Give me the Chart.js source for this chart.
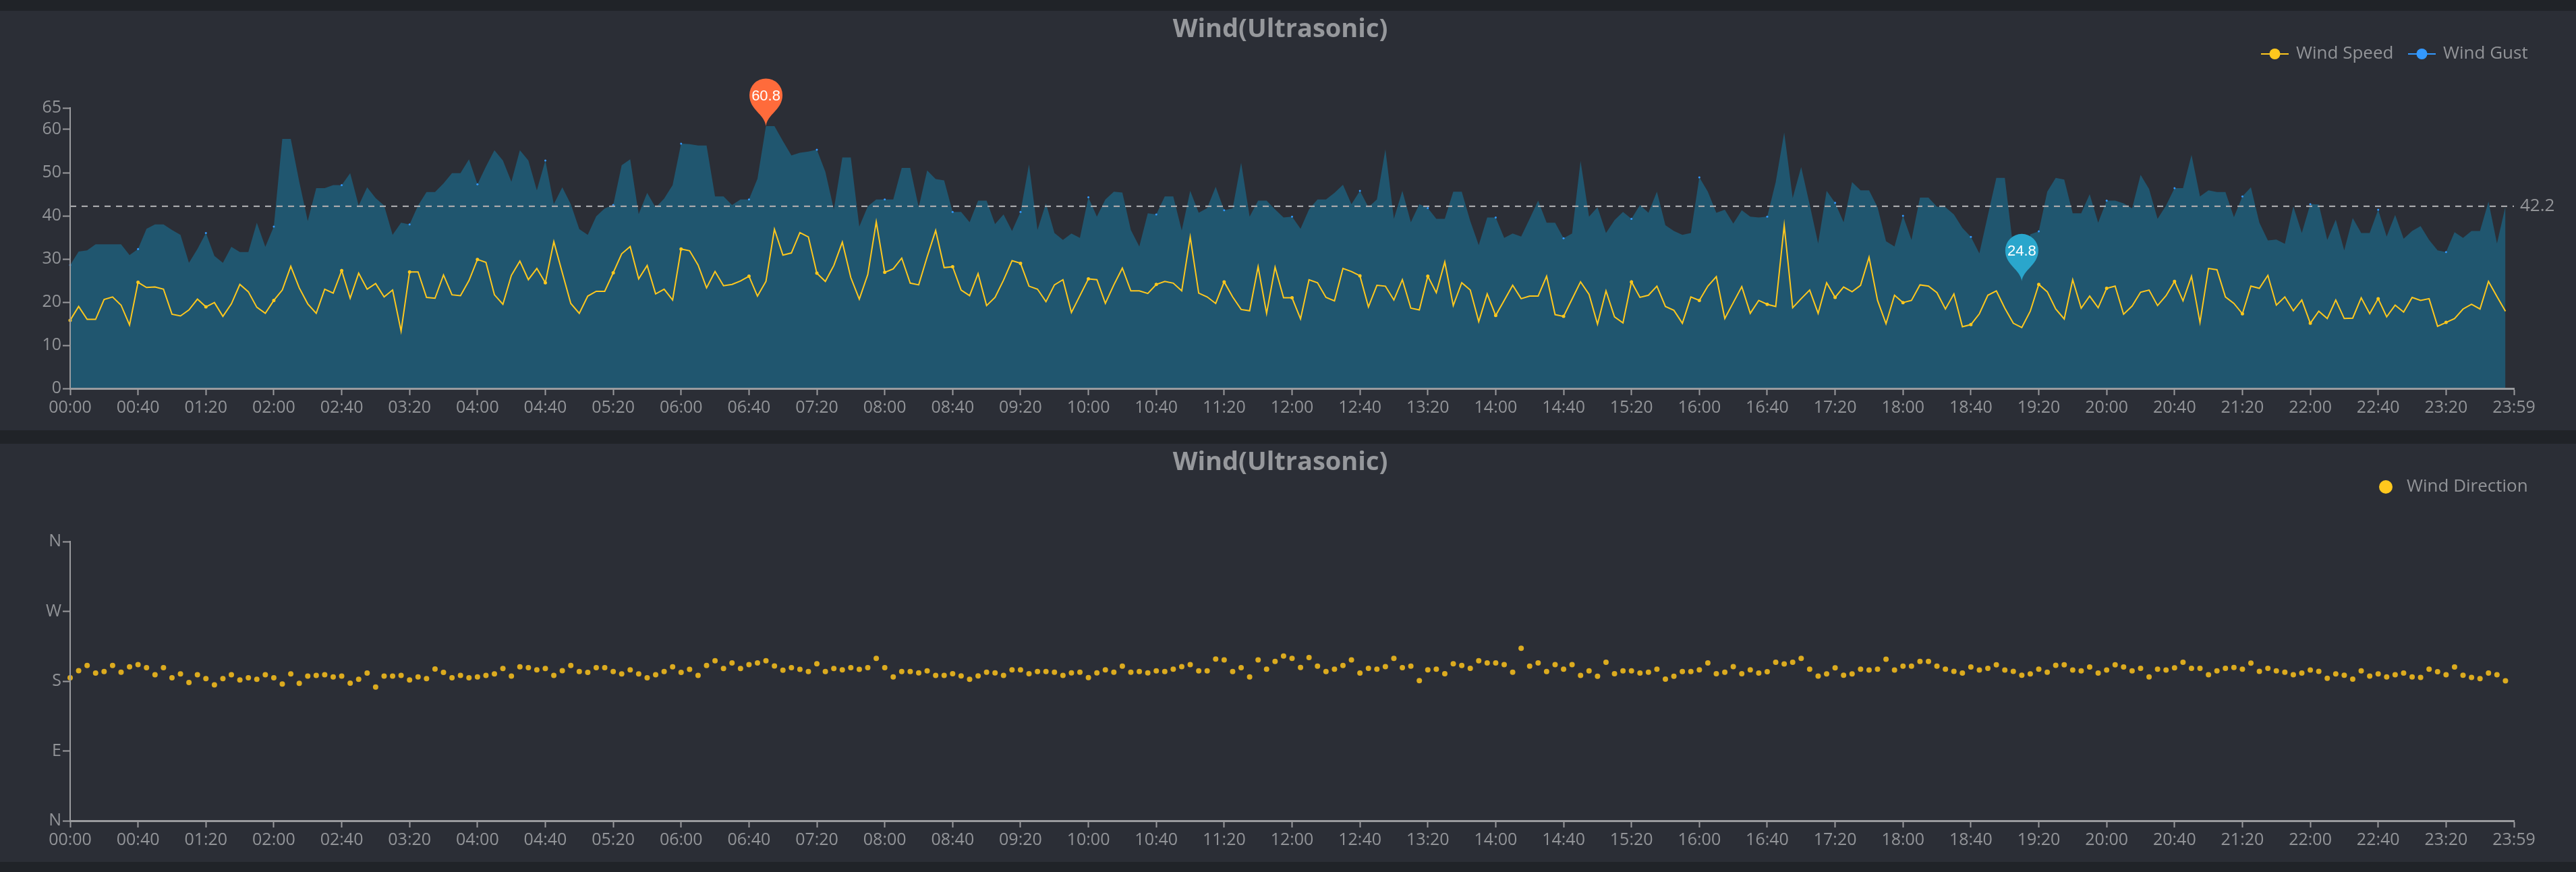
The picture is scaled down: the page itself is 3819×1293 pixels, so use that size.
<!DOCTYPE html>
<html>
<head>
<meta charset="utf-8">
<title>Wind(Ultrasonic)</title>
<script src="https://cdn.jsdelivr.net/npm/chart.js@4"></script>
<style>
  html, body { margin: 0; padding: 0; background: #202328; width: 3819px; height: 1293px; overflow: hidden; }
  canvas { position: absolute; left: 0; background: #2b2e36; }
  #wind-chart { top: 16px; }
  #dir-chart { top: 658px; }
</style>
</head>
<body>
<canvas id="wind-chart" width="3819" height="622"></canvas>
<canvas id="dir-chart" width="3819" height="620"></canvas>
<script>
// x labels: one slot every 5 minutes, the last slot is 23:59
var categories = [];
for (var m = 0; m < 1440; m += 5) {
  categories.push(String(Math.floor(m / 60)).padStart(2, '0') + ':' + String(m % 60).padStart(2, '0'));
}
categories.push('23:59');

var windSpeed = [15.8,19.0,16.0,16.0,20.6,21.2,19.3,14.7,24.6,23.4,23.5,23.0,17.2,16.8,18.2,20.7,18.9,19.9,16.7,19.6,24.1,22.4,18.8,17.4,20.4,22.8,28.3,23.3,19.6,17.4,23.0,22.1,27.3,20.9,26.7,23.0,24.3,21.2,22.8,13.3,27.0,27.0,21.1,20.9,26.3,21.7,21.5,25.0,29.9,29.2,21.7,19.5,26.2,29.5,25.2,27.8,24.5,34.0,26.8,19.7,17.4,21.4,22.5,22.5,26.8,31.2,32.9,25.4,28.5,21.9,23.0,20.5,
  32.3,31.9,28.6,23.3,27.1,23.8,24.1,24.9,26.0,21.4,24.8,36.9,30.9,31.4,36.1,35.1,26.7,24.8,28.5,33.9,25.7,20.7,26.4,38.6,26.9,27.7,30.2,24.4,24.0,30.5,36.6,28.0,28.2,22.8,21.5,26.6,19.2,21.1,25.1,29.6,29.0,23.7,23.0,20.1,24.0,25.2,17.6,21.5,25.4,25.2,19.7,24.0,27.9,22.6,22.6,22.0,24.1,24.8,24.4,22.6,35.1,22.1,21.2,19.7,24.7,21.2,18.3,18.0,28.2,17.4,28.1,21.0,21.0,16.1,25.2,24.5,21.1,20.3,27.8,
  27.1,26.1,18.9,23.9,23.7,20.5,25.2,18.6,18.2,26.0,22.2,29.3,19.2,24.5,22.8,15.5,21.9,16.9,20.4,23.9,20.8,21.4,21.4,26.0,17.1,16.7,20.7,24.7,21.8,14.9,22.6,16.6,15.2,24.7,21.1,21.6,23.7,19.0,18.1,15.1,21.2,20.4,23.7,25.9,16.2,19.9,23.6,17.4,20.4,19.5,19.0,37.8,18.7,20.8,22.8,17.4,24.5,21.1,23.5,22.4,23.9,30.4,20.4,15.0,21.6,19.9,20.4,24.0,23.7,22.2,18.4,21.9,14.3,14.8,17.3,21.6,22.6,18.6,15.1,14.1,
  17.9,24.1,22.4,18.4,16.1,25.2,18.6,21.4,18.7,23.2,23.7,17.2,19.1,22.3,22.8,19.2,21.5,24.8,20.3,26.0,15.3,27.8,27.5,21.2,19.7,17.3,23.7,23.2,26.2,19.3,21.2,18.0,20.5,15.1,17.9,16.2,20.5,16.2,16.3,21.0,17.3,20.8,16.6,19.3,17.7,21.1,20.4,20.8,14.4,15.3,16.2,18.4,19.5,18.4,24.8,21.3,17.9];

var windGust = [28.6,31.7,32.0,33.4,33.4,33.4,33.4,30.9,32.3,37.0,38.0,38.0,36.7,35.6,29.1,32.3,36.0,30.7,29.1,32.8,31.6,31.6,38.4,32.8,37.5,57.8,57.8,47.9,38.8,46.4,46.4,47.1,47.1,49.9,42.4,46.6,44.1,42.4,35.6,38.4,38.0,42.4,45.5,45.5,47.5,49.9,49.9,53.1,47.3,51.4,55.2,52.8,47.9,55.2,52.8,45.9,52.8,42.7,46.6,42.7,36.9,35.6,39.9,41.7,42.5,51.7,53.1,40.4,45.3,41.9,44.0,47.1,
  56.7,56.6,56.3,56.3,44.5,44.5,42.5,43.8,43.8,48.6,60.8,60.8,57.3,54.0,54.6,54.9,55.3,50.2,41.5,53.5,53.5,37.5,42.2,43.8,43.8,43.8,51.1,51.1,42.0,50.5,48.5,48.2,40.9,40.9,38.5,43.5,43.5,38.1,40.3,36.5,40.9,51.9,36.7,42.9,36.0,34.4,35.9,34.9,44.3,39.8,43.8,45.6,45.4,36.7,32.9,40.6,40.3,44.5,44.5,36.6,45.8,40.7,41.8,46.7,41.3,41.7,52.3,39.8,43.5,43.5,41.5,39.6,39.8,37.0,41.5,43.8,43.8,45.3,47.2,
  42.7,45.8,42.0,43.8,55.4,39.3,45.8,38.5,42.7,41.8,39.3,39.3,45.6,45.6,38.8,33.2,39.6,39.6,34.9,35.9,35.2,39.3,43.5,38.4,38.4,34.8,35.9,52.7,39.8,42.0,36.0,39.0,40.9,39.3,42.5,40.7,45.6,37.8,36.5,35.6,36.0,48.9,45.6,40.7,41.4,38.2,41.3,39.8,39.6,39.8,47.8,59.3,44.1,51.3,42.6,33.6,45.8,43.0,38.5,47.8,45.9,45.9,42.0,34.1,32.9,40.0,34.4,44.2,44.2,42.1,42.0,40.3,37.2,35.1,31.3,40.1,48.8,48.8,32.4,24.8,
  35.7,36.4,45.6,48.8,48.4,40.6,40.6,45.0,38.4,43.5,43.5,42.9,41.7,49.5,46.2,39.3,42.4,46.4,46.4,54.1,44.5,45.9,45.5,45.5,39.7,44.5,46.6,38.4,34.3,34.5,33.5,42.2,36.0,42.7,42.6,34.4,39.1,32.0,39.5,36.0,36.0,41.4,35.2,40.2,34.7,36.5,37.6,34.4,32.0,31.6,36.2,34.9,36.5,36.5,43.3,33.6,42.2];

var windDirection = [184.4,193.4,200.3,190.5,192.3,200.3,191.6,198.5,201.4,197.4,188.3,197.4,184.4,189.4,178.2,188.3,183.3,175.3,183.3,188.3,181.5,184.4,182.5,188.3,184.4,176.4,189.4,177.1,186.5,187.3,188.3,185.4,186.5,177.5,182.5,190.5,172.4,186.5,186.5,187.3,181.5,185.4,183.3,195.6,191.2,184.4,187.3,184.4,185.4,187.3,189.4,196.3,186.5,198.5,197.4,194.5,196.3,187.3,193.4,200.3,192.3,191.2,197.4,197.4,192.3,189.4,194.5,189.4,184.4,188.3,192.3,198.5,191.2,195.2,187.3,200.3,206.4,196.3,203.5,196.3,201.4,203.5,206.4,199.6,194.1,197.4,195.2,192.3,202.5,192.3,196.3,194.5,197.4,195.2,197.4,209.3,
  197.4,185.5,192.5,192.5,190.7,193.3,187.5,187.5,189.6,186.7,182.3,186.7,191.6,190.7,187.5,194.5,194.5,189.6,192.5,192.5,191.6,187.5,190.7,191.6,184.6,190.7,194.5,191.6,199.4,191.6,192.5,190.7,193.3,192.5,195.4,198.6,201.4,193.3,193.3,208.4,207.5,192.5,197.4,185.5,207.5,195.4,205.5,212.5,209.3,197.7,210.4,199.4,192.5,195.4,200.3,207.5,190.4,196.5,195.4,198.6,209.3,197.4,199.4,180.6,194.5,195.4,189.6,202.3,200.3,196.5,206.4,203.5,203.5,201.4,191.6,222.3,199.4,203.5,192.5,201.4,195.4,201.4,187.5,193.3,186.4,204.3,189.6,193.3,193.3,190.4,191.6,195.4,182.6,186.4,192.5,192.5,194.5,203.5,189.6,191.6,198.6,189.6,194.5,
  190.4,192.2,204.4,202.2,204.4,209.3,195.4,186.5,189.4,197.2,187.6,189.4,195.4,194.4,195.4,208.3,194.4,199.4,199.4,205.4,205.4,199.4,195.4,192.6,190.4,198.3,194.4,196.5,201.1,194.4,192.6,187.6,189.4,195.4,191.5,200.4,201.1,194.4,193.3,198.3,190.4,194.4,201.1,198.3,193.3,196.5,185.4,195.4,194.4,197.2,204.4,196.5,196.5,188.3,193.3,196.5,197.6,195.4,203.3,192.6,196.5,193.3,191.5,188.3,190.4,194.4,192.6,183.7,189.4,187.6,182.6,193.3,186.5,189.4,185.4,188.3,190.4,185.4,184.7,195.4,192.2,188.3,198.3,187.6,184.7,183.3,190.4,188.3,180.5];

var windTicks = [0, 10, 20, 30, 40, 50, 60, 65];
var dirTicks = [0, 90, 180, 270, 360];
var dirLabels = ['N', 'E', 'S', 'W', 'N'];

var meanGust = 42.2;
var maxGust = { index: 82, value: 60.8 };
var minGust = { index: 230, value: 24.8 };

var titleText = 'Wind(Ultrasonic)';
var speedName = 'Wind Speed';
var gustName = 'Wind Gust';
var dirName = 'Wind Direction';

var fontName = '"Open Sans", "Noto Sans", sans-serif';
var grey = '#929498';
var axisGrey = '#9a9b9e';
var yellow = '#ffc81e';
var blue = '#3399ff';

Chart.defaults.font.family = fontName;
Chart.defaults.font.size = 25;
Chart.defaults.color = grey;
Chart.defaults.animation = false;

// x axis shows every 8th slot, that is 40 minutes
function xAxis(height) {
  return {
    type: 'category',
    offset: false,
    afterBuildTicks: function(scale) {
      scale.ticks = scale.ticks.filter(function(t) { return t.value % 8 === 0; });
    },
    afterFit: function(scale) { scale.height = height; },
    grid: { drawOnChartArea: false, drawTicks: true, tickLength: 10, tickWidth: 2, tickColor: axisGrey, z: 1 },
    border: { color: axisGrey, width: 3, z: 1 },
    ticks: { autoSkip: false, maxRotation: 0, minRotation: 0, padding: 4, z: 1, color: grey }
  };
}

function yAxis(maxValue, tickValues, labels) {
  return {
    min: 0,
    max: maxValue,
    afterBuildTicks: function(scale) {
      scale.ticks = tickValues.map(function(v) { return { value: v }; });
    },
    afterFit: function(scale) { scale.width = 104; },
    grid: { drawOnChartArea: false, drawTicks: true, tickLength: 11, tickWidth: 2, tickColor: axisGrey, z: 1 },
    border: { color: axisGrey, width: 2, z: 1 },
    ticks: {
      padding: 2,
      z: 1,
      color: grey,
      callback: function(v) { return labels ? labels[tickValues.indexOf(v)] : v; }
    }
  };
}

function drawTitle(ctx, y) {
  ctx.save();
  ctx.font = 'bold 38px ' + fontName;
  ctx.fillStyle = '#96989c';
  ctx.textAlign = 'center';
  ctx.textBaseline = 'middle';
  ctx.fillText(titleText, 1898, y);
  ctx.restore();
}

function drawLegendText(ctx, text, x, y) {
  ctx.font = '26px ' + fontName;
  ctx.fillStyle = grey;
  ctx.textAlign = 'left';
  ctx.textBaseline = 'middle';
  ctx.fillText(text, x, y);
}

function drawLegendLine(ctx, color, x, y) {
  ctx.strokeStyle = color;
  ctx.lineWidth = 2;
  ctx.beginPath();
  ctx.moveTo(x, y);
  ctx.lineTo(x + 41, y);
  ctx.stroke();
  ctx.fillStyle = color;
  ctx.beginPath();
  ctx.arc(x + 20.5, y, 8, 0, Math.PI * 2);
  ctx.fill();
}

// same shape as the pin marks of the original dashboard
function drawPin(ctx, x, tipY, color, text) {
  var r = 24.5;
  var cy = tipY - 46;
  ctx.fillStyle = color;
  ctx.beginPath();
  ctx.moveTo(x, tipY);
  ctx.bezierCurveTo(x - 2, tipY - 18, x - r, cy + 22, x - r, cy);
  ctx.arc(x, cy, r, Math.PI, 0);
  ctx.bezierCurveTo(x + r, cy + 22, x + 2, tipY - 18, x, tipY);
  ctx.fill();
  ctx.fillStyle = '#ffffff';
  ctx.font = '22px "Liberation Sans", Arial, sans-serif';
  ctx.textAlign = 'center';
  ctx.textBaseline = 'middle';
  ctx.fillText(text, x, cy + 2);
}

var windExtras = {
  id: 'windExtras',
  afterDraw: function(chart) {
    var ctx = chart.ctx;
    var x = chart.scales.x;
    var y = chart.scales.y;
    ctx.save();
    drawTitle(ctx, 28);
    drawLegendLine(ctx, yellow, 3352, 64);
    drawLegendText(ctx, speedName, 3404, 64);
    drawLegendLine(ctx, blue, 3570, 64);
    drawLegendText(ctx, gustName, 3622, 64);

    drawLegendText(ctx, String(meanGust), 3736, y.getPixelForValue(meanGust));
    drawPin(ctx, x.getPixelForValue(maxGust.index), y.getPixelForValue(maxGust.value), '#ff6b3b', String(maxGust.value));
    drawPin(ctx, x.getPixelForValue(minGust.index), y.getPixelForValue(minGust.value), '#2aa6cc', String(minGust.value));
    ctx.restore();
  }
};

var dirExtras = {
  id: 'dirExtras',
  afterDraw: function(chart) {
    var ctx = chart.ctx;
    ctx.save();
    drawTitle(ctx, 28);
    ctx.fillStyle = yellow;
    ctx.beginPath();
    ctx.arc(3537, 64, 10, 0, Math.PI * 2);
    ctx.fill();
    drawLegendText(ctx, dirName, 3568, 64);
    ctx.restore();
  }
};

function everyEighth(ctx) {
  return ctx.dataIndex % 8 === 0 ? 1.5 : 0;
}

new Chart(document.getElementById('wind-chart'), {
  type: 'line',
  data: {
    labels: categories,
    datasets: [{
      label: 'mean',
      data: categories.map(function() { return meanGust; }),
      borderColor: '#a6a7aa',
      borderWidth: 2.4,
      borderDash: [9, 8],
      pointRadius: 0,
      tension: 0,
      clip: false,
      order: 0
    }, {
      label: speedName,
      data: windSpeed,
      borderColor: yellow,
      backgroundColor: yellow,
      borderWidth: 2,
      pointRadius: everyEighth,
      tension: 0,
      clip: false,
      order: 1
    }, {
      label: gustName,
      data: windGust,
      borderWidth: 0,
      borderColor: blue,
      fill: 'origin',
      backgroundColor: '#20566f',
      pointBackgroundColor: blue,
      pointBorderWidth: 0,
      pointRadius: everyEighth,
      tension: 0,
      clip: false,
      order: 2
    }]
  },
  options: {
    responsive: false,
    layout: { padding: { top: 144, right: 92, left: 0, bottom: 0 } },
    plugins: { legend: { display: false }, title: { display: false }, tooltip: { enabled: false } },
    scales: { x: xAxis(62), y: yAxis(65, windTicks) }
  },
  plugins: [windExtras]
});

new Chart(document.getElementById('dir-chart'), {
  type: 'line',
  data: {
    labels: categories,
    datasets: [{
      label: dirName,
      data: windDirection,
      showLine: false,
      backgroundColor: '#dcab1f',
      borderColor: '#dcab1f',
      pointRadius: 4,
      pointBorderWidth: 0,
      clip: false
    }]
  },
  options: {
    responsive: false,
    layout: { padding: { top: 145, right: 92, left: 0, bottom: 0 } },
    plugins: { legend: { display: false }, title: { display: false }, tooltip: { enabled: false } },
    scales: { x: xAxis(61), y: yAxis(360, dirTicks, dirLabels) }
  },
  plugins: [dirExtras]
});
</script>
</body>
</html>
